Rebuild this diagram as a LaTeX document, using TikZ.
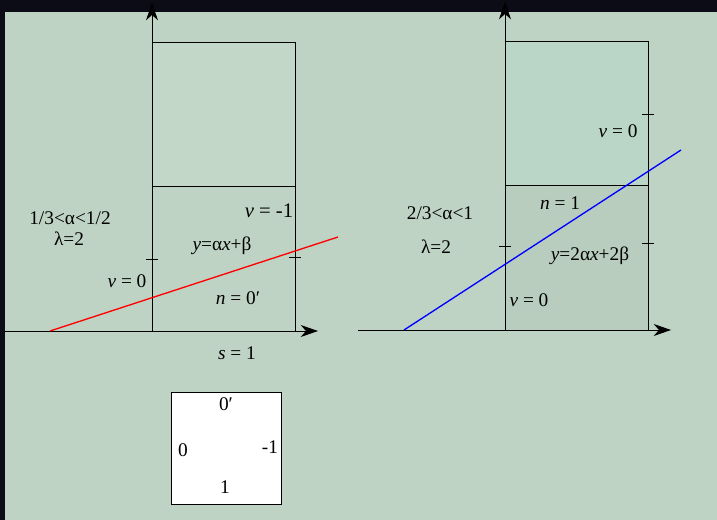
\documentclass[tikz,border=0pt]{standalone}
\usepackage{fontspec}
\setmainfont{Liberation Serif}
\usetikzlibrary{arrows.meta}

\definecolor{bgcol}{HTML}{BED3C4}
\definecolor{framecol}{HTML}{0C0C16}
\definecolor{topleft}{HTML}{C3D7C9}
\definecolor{topright}{HTML}{BAD6C7}
\definecolor{botright}{HTML}{B8CDBE}

\begin{document}
\begin{tikzpicture}[x=0.75pt,y=-0.75pt,line width=0.75pt,
	axis/.style={-{Stealth[length=13pt,width=9pt,inset=4pt]}},
	lbl/.style={font=\fontsize{14.5}{16}\selectfont,inner sep=0pt}]
		
		%фон
		\fill[bgcol] (0,0) rectangle (717,520);
		\fill[framecol] (0,0) rectangle (717,12);
		\fill[framecol] (0,0) rectangle (5,520);
		\useasboundingbox (0,0) rectangle (717,520);
		
		%ліва діаграма
		\fill[topleft] (152,43) rectangle (295,187);
		\draw (152,43) rectangle (295,331);
		\draw (152,187) -- (295,187);
		\draw[axis] (5,331) -- (318,331);
		\draw[axis] (152,331) -- (152,3);
		\draw (146,260) -- (158,260);
		\draw (289,258) -- (301,258);
		\draw[red,line width=1pt] (50,331) -- (338,237);
		
		\node[lbl] (rangeL) at (70,218) {1/3<α<1/2};
		\node[lbl] (lambdaL) at (69,239) {λ=2};
		\node[lbl,font=\fontsize{15.5}{18}\selectfont] (vL) at (269,211) {\textit{v} = -1};
		\node[lbl] (eqL) at (222,246) {\textit{y}=α\textit{x}+β};
		\node[lbl] (vzL) at (127,281) {\textit{v} = 0};
		\node[lbl] (nL) at (238,298) {\textit{n} = 0′};
		\node[lbl] (sL) at (237,353) {\textit{s} = 1};
		
		%права діаграма
		\fill[topright] (505,42) rectangle (648,186);
		\fill[botright] (505,186) rectangle (648,330);
		\draw (505,42) rectangle (648,330);
		\draw (505,186) -- (648,186);
		\draw[axis] (358,330) -- (671,330);
		\draw[axis] (505,330) -- (505,2);
		\draw (642,115) -- (654,115);
		\draw (642,244) -- (654,244);
		\draw (499,247) -- (511,247);
		\draw[blue,line width=1pt] (404,330) -- (681,150);
		
		\node[lbl] (rangeR) at (440,213) {2/3<α<1};
		\node[lbl] (lambdaR) at (436,247) {λ=2};
		\node[lbl] (vR) at (618,131) {\textit{v} = 0};
		\node[lbl] (nR) at (560,203) {\textit{n} = 1};
		\node[lbl] (eqR) at (590,256) {\textit{y}=2α\textit{x}+2β};
		\node[lbl] (vzR) at (529,300) {\textit{v} = 0};
		
		%схема станів
		\draw[fill=white] (171,392) rectangle (281,504);
		\node[lbl] (sTop) at (226,404) {0′};
		\node[lbl] (sLeft) at (183,450) {0};
		\node[lbl] (sRight) at (270,447) {-1};
		\node[lbl] (sBot) at (225,487) {1};
	\end{tikzpicture}
\end{document}
